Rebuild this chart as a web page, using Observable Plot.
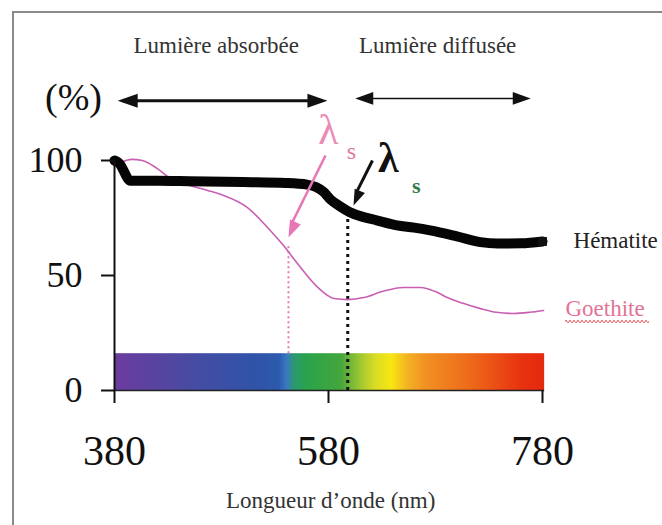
<!DOCTYPE html>
<html>
<head>
<meta charset="utf-8">
<script src="https://cdn.jsdelivr.net/npm/d3@7"></script>
<script src="https://cdn.jsdelivr.net/npm/@observablehq/plot@0.6"></script>
<style>
  body { margin: 0; background: #fff; }
  #wrap { position: relative; width: 662px; height: 525px; overflow: hidden; background: #fff; }
  #border { position: absolute; left: 12px; top: 11px; right: -10px; bottom: -10px;
            border-top: 2px solid #8a8a8a; border-left: 2px solid #8a8a8a; pointer-events: none; }
</style>
</head>
<body>
<div id="wrap"><div id="chart"></div><div id="border"></div></div>
<script>
// ---- data ----
const hematiteNm  = [380, 384, 395, 420, 450, 500, 540, 560, 575, 582, 591, 600, 612, 625, 644, 660, 675, 700, 722, 738, 760, 780];
const hematitePct = [100, 99, 91.2, 91.2, 91, 90.6, 90.2, 89.5, 86.5, 83, 80, 77.5, 75.5, 74, 71.8, 70.8, 69.6, 67, 64.5, 63.9, 64, 64.8];

const goethiteNm  = [385, 396, 406, 420, 435, 451, 467, 482, 504, 523, 538, 551, 570, 585, 598, 613, 630, 650, 666, 680, 691, 705, 722, 737, 753, 768, 781];
const goethitePct = [99, 100.5, 100, 96.5, 91.3, 89, 87, 84.8, 79.6, 70.9, 63, 55.2, 44.8, 40, 39.5, 40.4, 43, 44.8, 44.8, 43, 40.4, 38, 35.6, 34, 33.5, 34, 34.8];

const spectrumNm    = [380, 422, 468, 515, 534, 541, 549, 561, 592, 611, 624, 639, 654, 670, 717, 763, 782];
const spectrumColor = ["#6c3c9f", "#57449f", "#404ea4", "#2e54a8", "#2c5aae", "#3a78c0", "#2a9a6a", "#2aa34a", "#45a63c", "#a3c832", "#d9dc25", "#f7e712", "#f3b322", "#f19223", "#ee6519", "#e8300f", "#e42a10"];

const xTicks = [380, 580, 780];
const yTicks = [0, 50, 100];

const lambdaGoethite = 542.6;  // pink dotted marker (nm)
const lambdaHematite = 598;    // black dotted marker (nm)

// ---- tables ----
const hematite = hematiteNm.map((x, i) => ({x, y: hematitePct[i]}));
const goethite = goethiteNm.map((x, i) => ({x, y: goethitePct[i]}));

const pink = "#c95fb3";
const arrowPink = "#e877b6";

const arrowHead = {
  draw(ctx, size) {
    const r = Math.sqrt(size / Math.PI);
    ctx.moveTo(0, 0);
    ctx.lineTo(0.7 * r, 2 * r);
    ctx.lineTo(-0.7 * r, 2 * r);
    ctx.closePath();
  }
};

const serif = "'Liberation Serif', 'Times New Roman', serif";

const plot = Plot.plot({
  width: 662,
  height: 525,
  marginLeft: 114,
  marginRight: 120,
  marginTop: 160,
  marginBottom: 135,
  x: {domain: [380, 780]},
  y: {domain: [0, 100]},
  style: {fontFamily: serif, fontSize: "23px", background: "#fff", color: "#111", overflow: "visible"},
  marks: [
    // spectrum bar
    Plot.rect([{x1: spectrumNm[0], x2: spectrumNm[spectrumNm.length - 1], y1: 0, y2: 16}],
      {x1: "x1", x2: "x2", y1: "y1", y2: "y2", fill: "url(#spectrum)"}),
    Plot.ruleY([0], {x1: 380, x2: 782, stroke: "#222", strokeWidth: 1.5}),
    // dotted lambda markers
    Plot.ruleX([lambdaGoethite], {y1: 16, y2: 63, stroke: arrowPink, strokeWidth: 2, strokeDasharray: "2,3"}),
    Plot.ruleX([lambdaHematite], {y1: 0, y2: 76, stroke: "#111", strokeWidth: 3, strokeDasharray: "3,4"}),
    // curves
    Plot.line(goethite, {x: "x", y: "y", stroke: pink, strokeWidth: 1.6, curve: "monotone-x"}),
    Plot.line(hematite, {x: "x", y: "y", stroke: "#050505", strokeWidth: 10, curve: "monotone-x", strokeLinejoin: "round"}),
    Plot.dot([hematite[hematite.length - 1]], {x: "x", y: "y", symbol: "square", r: 5, fill: "#111", stroke: "none"}),
    // axes
    Plot.ruleX([380], {y1: 0, y2: 100, stroke: "#111", strokeWidth: 2}),
    Plot.axisY({ticks: yTicks, tickSize: 13, tickPadding: 19, fontSize: 36, fontFamily: serif, strokeWidth: 2, tickFormat: d => String(d), label: null}),
    Plot.axisX({ticks: xTicks, tickSize: 13, tickPadding: 32, fontSize: 42, fontFamily: serif, strokeWidth: 2, tickFormat: d => String(d), label: null}),
    // top double arrows
    Plot.ruleY([126], {x1: 388, x2: 574, stroke: "#111", strokeWidth: 3}),
    Plot.dot([{x: 383, r: -90}, {x: 579, r: 90}], {x: "x", y: 126, rotate: "r", symbol: arrowHead, r: 10, fill: "#111", stroke: "none"}),
    Plot.ruleY([127], {x1: 610, x2: 764, stroke: "#111", strokeWidth: 1.5}),
    Plot.dot([{x: 605, r: -90}, {x: 769, r: 90}], {x: "x", y: 127, rotate: "r", symbol: arrowHead, r: 9, fill: "#111", stroke: "none"}),
    // lambda arrows
    Plot.link([{x1: 577.2, y1: 102.2, x2: 546, y2: 73}], {x1: "x1", y1: "y1", x2: "x2", y2: "y2", stroke: arrowPink, strokeWidth: 2.5}),
    Plot.dot([{x: 542.6, y: 66.5}], {x: "x", y: "y", rotate: 204, symbol: arrowHead, r: 8.5, fill: arrowPink, stroke: "none"}),
    Plot.link([{x1: 621.1, y1: 100, x2: 606, y2: 86}], {x1: "x1", y1: "y1", x2: "x2", y2: "y2", stroke: "#111", strokeWidth: 3}),
    Plot.dot([{x: 603.4, y: 80.4}], {x: "x", y: "y", rotate: 203, symbol: arrowHead, r: 8, fill: "#111", stroke: "none"}),
    // spell-check style squiggle under "Goethite" (two offset dashed rules)
    Plot.ruleY([30.3], {x1: 801.5, x2: 880, stroke: "#e05050", strokeWidth: 1.2, strokeDasharray: "2,2"}),
    Plot.ruleY([29.7], {x1: 803.5, x2: 880, stroke: "#e05050", strokeWidth: 1.2, strokeDasharray: "2,2"}),
    // texts
    Plot.text(["(%)"], {x: 341.7, y: 127.4, text: d => d, fontSize: 38, fontFamily: serif, fill: "#111"}),
    Plot.text(["Lumière absorbée"], {x: 475, y: 150, text: d => d, fontSize: 23, fontFamily: serif, fill: "#333"}),
    Plot.text(["Lumière diffusée"], {x: 682, y: 150, text: d => d, fontSize: 23, fontFamily: serif, fill: "#333"}),
    Plot.text(["λ"], {x: 580, y: 113, text: d => d, fontSize: 42, fontFamily: serif, fill: "#ea8cb6"}),
    Plot.text(["s"], {x: 601.5, y: 104, text: d => d, fontSize: 24, fontFamily: serif, fill: "#e07a9a"}),
    Plot.text(["λ"], {x: 636, y: 101, text: d => d, fontSize: 42, fontFamily: serif, fill: "#111", fontWeight: "bold"}),
    Plot.text(["s"], {x: 662, y: 89, text: d => d, fontSize: 22, fontFamily: serif, fill: "#2e7d4a", fontWeight: "bold"}),
    Plot.text(["Hématite"], {x: 809, y: 65.2, text: d => d, fontSize: 23, fontFamily: serif, fill: "#222", textAnchor: "start"}),
    Plot.text(["Goethite"], {x: 801.5, y: 35.5, text: d => d, fontSize: 23, fontFamily: serif, fill: "#e27397", textAnchor: "start"}),
    Plot.text(["Longueur d’onde (nm)"], {x: 582, y: -47.8, text: d => d, fontSize: 23, fontFamily: serif, fill: "#333"})
  ]
});

// gradient for the spectrum bar
const svg = d3.select(plot);
const defs = svg.insert("defs", ":first-child");
const grad = defs.append("linearGradient").attr("id", "spectrum").attr("x1", "0").attr("x2", "1").attr("y1", "0").attr("y2", "0");
const n0 = spectrumNm[0], n1 = spectrumNm[spectrumNm.length - 1];
spectrumNm.forEach((nm, i) => {
  grad.append("stop").attr("offset", (nm - n0) / (n1 - n0)).attr("stop-color", spectrumColor[i]);
});

document.getElementById("chart").appendChild(plot);
</script>
</body>
</html>
